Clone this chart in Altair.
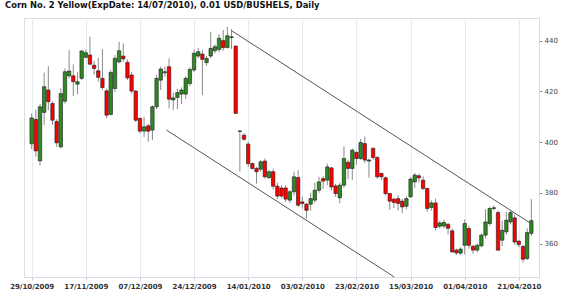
import json
import altair as alt
import pandas as pd

title_text = "Corn  No. 2 Yellow(ExpDate: 14/07/2010), 0.01 USD/BUSHELS, Daily"
tick_labels = ["29/10/2009", "17/11/2009", "07/12/2009", "24/12/2009", "14/01/2010",
               "03/02/2010", "23/02/2010", "15/03/2010", "01/04/2010", "21/04/2010"]
bars_per_tick = 13
y_ticks = [360, 380, 400, 420, 440]

opens = [399.3, 408.9, 392.6, 411.7, 420.5, 415.2, 408.1, 398.1, 416.1, 426.1,
         426.1, 422.8, 425.1, 433.4, 434.3, 430.3, 428.1, 425.1, 420.2, 410.9,
         421.1, 431.6, 433.9, 431.4, 426.4, 420.1, 409.3, 404.3, 406.4, 404.7,
         413.9, 424.4, 427.3, 429.7, 416.6, 417.6, 418.9, 418.9, 423.1, 428.4,
         433.9, 434.7, 431.3, 433.9, 436.0, 436.5, 440.0, 437.3, 441.2, 437.8,
         404.2, 402.7, 399.2, 391.5, 389.6, 389.3, 392.5, 386.0, 388.3, 382.6,
         381.9, 381.9, 377.1, 380.4, 386.0, 376.4, 375.5, 375.5, 377.1, 381.0,
         385.6, 385.0, 389.8, 382.7, 378.0, 383.0, 392.0, 389.6, 395.9, 393.5,
         399.4, 392.5, 397.5, 393.9, 387.6, 385.9, 379.7, 377.5, 377.7, 376.7,
         374.7, 378.4, 384.3, 386.7, 385.0, 381.7, 374.2, 376.0, 366.8, 366.9,
         367.6, 365.0, 357.4, 356.2, 359.3, 365.9, 358.9, 357.4, 359.1, 363.3,
         367.9, 373.8, 372.2, 361.3, 364.6, 368.5, 370.1, 360.9, 358.9, 354.1,
         364.0]
highs = [411.3, 412.8, 415.0, 427.4, 429.9, 416.1, 409.0, 421.1, 429.0, 436.2,
         430.6, 427.7, 436.2, 436.5, 441.5, 431.9, 433.2, 436.6, 421.1, 428.4,
         434.3, 439.5, 438.9, 432.6, 427.7, 420.5, 409.8, 409.9, 407.2, 414.5,
         426.4, 429.7, 429.7, 433.0, 419.5, 421.0, 421.5, 426.0, 429.5, 436.5,
         437.0, 436.3, 434.0, 443.5, 438.5, 442.5, 444.2, 445.4, 444.5, 438.2,
         404.6, 403.5, 400.1, 392.0, 390.2, 393.0, 393.5, 389.0, 389.5, 384.0,
         383.0, 383.0, 381.0, 388.3, 388.9, 378.4, 376.0, 380.0, 384.0, 386.3,
         386.5, 391.5, 390.2, 383.5, 384.0, 398.3, 393.0, 397.5, 396.5, 401.2,
         402.1, 393.5, 398.0, 394.5, 388.0, 386.5, 380.0, 378.0, 379.0, 377.5,
         378.5, 386.0, 387.8, 387.5, 386.5, 382.0, 377.0, 377.7, 369.0, 369.3,
         368.0, 365.9, 358.0, 358.5, 369.5, 367.0, 359.5, 360.0, 364.0, 373.5,
         374.5, 375.0, 373.0, 369.0, 372.5, 373.0, 371.5, 361.5, 359.5, 366.0,
         377.5]
lows = [397.2, 394.2, 390.6, 406.7, 412.6, 406.7, 398.1, 397.5, 415.2, 425.1,
        418.1, 418.8, 424.4, 433.0, 430.3, 426.6, 423.8, 420.5, 409.3, 410.6,
        419.8, 431.0, 431.6, 424.4, 419.1, 407.9, 403.4, 402.0, 400.1, 400.7,
        413.0, 420.5, 425.7, 413.2, 412.6, 413.0, 415.0, 417.0, 422.0, 427.5,
        433.0, 418.5, 430.0, 433.0, 435.0, 435.5, 436.0, 436.9, 436.7, 411.0,
        388.3, 400.5, 390.2, 389.2, 383.6, 388.4, 385.6, 385.4, 381.3, 377.5,
        378.0, 376.4, 376.0, 379.0, 374.4, 373.8, 369.8, 373.0, 376.0, 380.0,
        381.5, 383.0, 381.0, 378.4, 375.9, 382.0, 385.3, 385.0, 391.0, 393.0,
        391.8, 385.9, 393.0, 385.5, 385.0, 379.0, 373.3, 374.0, 373.0, 372.0,
        373.5, 378.0, 381.9, 384.0, 381.0, 372.5, 373.0, 365.2, 366.0, 366.0,
        363.5, 356.3, 355.5, 355.5, 355.7, 358.0, 356.0, 356.5, 358.5, 362.0,
        367.0, 373.0, 357.0, 359.0, 363.5, 367.5, 359.5, 358.5, 352.5, 353.5,
        363.0]
closes = [409.5, 396.5, 413.9, 421.8, 415.9, 408.6, 399.7, 419.1, 427.7, 428.0,
          423.8, 423.8, 435.9, 435.2, 430.7, 429.0, 425.5, 421.5, 410.6, 427.4,
          433.0, 436.0, 432.8, 425.3, 420.1, 408.6, 404.3, 406.0, 404.3, 413.9,
          425.1, 428.8, 427.7, 416.9, 417.4, 419.5, 420.5, 425.1, 428.6, 435.0,
          435.6, 432.6, 433.0, 436.9, 437.6, 440.9, 437.2, 441.9, 441.5, 411.3,
          404.4, 401.1, 391.5, 389.6, 388.3, 392.2, 386.3, 388.3, 382.6, 378.7,
          378.7, 377.5, 380.4, 386.3, 375.1, 375.8, 373.1, 377.7, 381.0, 384.3,
          384.6, 390.2, 382.3, 379.7, 383.0, 393.5, 389.6, 396.8, 393.5, 399.8,
          392.9, 392.9, 393.9, 386.3, 386.3, 379.7, 376.7, 376.2, 375.8, 374.4,
          377.7, 385.4, 387.0, 385.9, 381.7, 373.8, 376.0, 366.3, 368.1, 368.3,
          366.0, 356.7, 356.3, 357.8, 367.9, 359.3, 357.4, 359.3, 363.3, 368.5,
          373.8, 374.1, 357.4, 365.2, 369.2, 372.2, 360.6, 359.6, 353.8, 364.3,
          369.0]

# trend channel lines (bar index, price)
upper_x = [48.0, 120.0]
upper_y = [443.9, 367.8]
lower_x = [32.4, 87.1]
lower_y = [404.7, 346.8]

n = len(opens)
df = pd.DataFrame({"i": list(range(n)), "open": opens, "high": highs,
                   "low": lows, "close": closes})
df["dir"] = ["up" if c >= o else "down" for o, c in zip(opens, closes)]

lines_df = pd.DataFrame({
    "x": upper_x + lower_x,
    "y": upper_y + lower_y,
    "seg": ["upper"] * len(upper_x) + ["lower"] * len(lower_x),
})
title_df = pd.DataFrame({"t": [title_text]})

tick_values = [k * bars_per_tick for k in range(len(tick_labels))]
label_expr = json.dumps(tick_labels) + "[round(datum.value / %d)]" % bars_per_tick

xscale = alt.Scale(domain=[-0.64, 120.64], nice=False, zero=False)
yscale = alt.Scale(domain=[346.8, 448.9], nice=False, zero=False)

x_axis = alt.Axis(values=tick_values, labelExpr=label_expr, title=None,
                  grid=True, gridColor="#e3ebf3", gridWidth=1,
                  domainColor="#d6dde5", tickColor="#c8d0d8", tickSize=3,
                  labelFont="DejaVu Sans", labelFontSize=7, labelFontWeight="bold",
                  labelColor="#333333", labelPadding=2, labelFlush=False)
y_axis = alt.Axis(orient="right", values=y_ticks, title=None, grid=False,
                  domainColor="#d6dde5", tickColor="#888888", tickSize=3,
                  labelFont="DejaVu Sans", labelFontSize=7, labelColor="#444444",
                  labelPadding=2)

base = alt.Chart(df)

wicks = base.mark_rule(color="#8a8a8a", strokeWidth=1).encode(
    x=alt.X("i:Q", scale=xscale, axis=x_axis),
    y=alt.Y("low:Q", scale=yscale, axis=y_axis),
    y2="high:Q",
)

bodies = base.mark_bar(width=3.4, stroke="#1a1a1a", strokeWidth=0.6).encode(
    x=alt.X("i:Q", scale=xscale),
    y=alt.Y("open:Q", scale=yscale),
    y2="close:Q",
    color=alt.Color("dir:N", scale=alt.Scale(domain=["up", "down"],
                                             range=["#2f8a22", "#ff0000"]),
                    legend=None),
)

channel = alt.Chart(lines_df).mark_line(color="#555555", strokeWidth=1).encode(
    x=alt.X("x:Q", scale=xscale),
    y=alt.Y("y:Q", scale=yscale),
    detail="seg:N",
)

title_mark = alt.Chart(title_df).mark_text(
    align="left", baseline="alphabetic", font="DejaVu Sans", fontSize=8.4,
    fontWeight="bold", color="#111111"
).encode(text="t:N", x=alt.value(-19), y=alt.value(-10.5))

chart = alt.layer(wicks, bodies, channel, title_mark).properties(
    width=515, height=259,
    autosize=alt.AutoSizeParams(type="none"),
    padding={"left": 24, "top": 18, "right": 31, "bottom": 18},
).configure_view(stroke=None).configure(background="white")

chart.save("out.html", embed_options={"renderer": "svg", "actions": False})
